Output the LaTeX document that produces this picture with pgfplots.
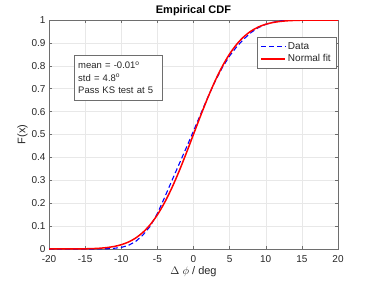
\documentclass[border=0pt]{standalone}
\usepackage{pgfplots}
\pgfplotsset{compat=1.18}
\usepackage{fontspec}
\setmainfont{Liberation Sans}
\usetikzlibrary{calc}
\definecolor{axgray}{RGB}{110,110,110}
\definecolor{txtgray}{RGB}{38,38,38}
\begin{document}
\begin{tikzpicture}
\begin{axis}[
  scale only axis,
  width=289pt, height=229pt,
  xmin=-20, xmax=20, ymin=0, ymax=1,
  xtick={-20,-15,...,20},
  ytick={0,0.1,...,1.0},
  yticklabels={0,0.1,0.2,0.3,0.4,0.5,0.6,0.7,0.8,0.9,1},
  grid=major,
  major grid style={draw=gray!18, line width=0.5pt},
  axis line style={draw=axgray, line width=0.6pt},
  tick style={draw=axgray, line width=0.5pt},
  tick align=inside,
  major tick length=3pt,
  xtick pos=both, ytick pos=both,
  /pgf/number format/assume math mode=true,
  tick label style={font=\fontsize{10}{12}\selectfont, text=txtgray},
  xticklabel style={yshift=-3pt},
  title={\textbf{Empirical CDF}},
  title style={font=\fontsize{11}{13}\selectfont, yshift=-5pt},
  xlabel={$\Delta$ $\phi$ / deg},
  ylabel={F(x)},
  label style={font=\fontsize{11}{13}\selectfont, text=txtgray},
  xlabel style={yshift=3pt},
  ylabel style={yshift=-3pt},
  legend style={at={(0.993,0.926)}, anchor=north east, draw=axgray,
    font=\fontsize{10}{12}\selectfont, inner sep=3pt, row sep=0pt},
  legend cell align=left,
  legend image code/.code={\draw[#1] (0cm,0cm) -- (0.85cm,0cm);},
]
\addplot[draw=blue, line width=1.1pt, dash pattern=on 5pt off 3pt] coordinates {
(-20,0) (-14,0) (-13,0.0005) (-12,0.001) (-11,0.003) (-10,0.007) (-9,0.016)
(-8,0.033) (-7,0.061) (-6,0.099) (-5,0.155) (-4.5,0.19) (-4,0.225) (-3,0.298)
(-2,0.370) (-1,0.442) (0,0.515) (1,0.590) (2,0.664) (3,0.733) (4,0.793)
(5,0.843) (6,0.884) (7,0.918) (8,0.946) (9,0.967) (10,0.981) (11,0.990)
(12,0.996) (13,0.999) (14,1) (20,1)
};
\addlegendentry{\textcolor{txtgray}{Data}}
\addplot[draw=red, line width=1.5pt, smooth] coordinates {
(-20,0.0000156) (-18,0.0000892) (-16,0.00043) (-15,0.0009) (-14,0.00178)
(-13,0.00336) (-12,0.00625) (-11,0.0110) (-10,0.0187) (-9,0.0305) (-8,0.0480)
(-7,0.0727) (-6,0.1060) (-5,0.1492) (-4,0.2029) (-3,0.2666) (-2,0.3392)
(-1,0.4184) (0,0.5008) (1,0.5833) (2,0.6623) (3,0.7347) (4,0.7983) (5,0.8517)
(6,0.8947) (7,0.9279) (8,0.9524) (9,0.9697) (10,0.9815) (11,0.9891)
(12,0.9938) (13,0.9966) (14,0.9982) (15,0.9991) (16,0.99957) (18,0.99991)
(20,0.99998)
};
\addlegendentry{\textcolor{txtgray}{Normal fit}}
\node[draw=axgray, fill=white, anchor=north west, align=left,
  text width=80pt, minimum height=45pt, inner sep=4pt,
  font=\fontsize{9.5}{12.5}\selectfont, text=txtgray]
  at (rel axis cs:0.0865,0.847)
  {mean = -0.01\textsuperscript{o}\\ std = 4.8\textsuperscript{o}\\ Pass KS test at 5};
\end{axis}
\path[use as bounding box] ($(current axis.south west)+(-49pt,-31pt)$) rectangle ($(current axis.north east)+(36pt,20pt)$);
\end{tikzpicture}
\end{document}
